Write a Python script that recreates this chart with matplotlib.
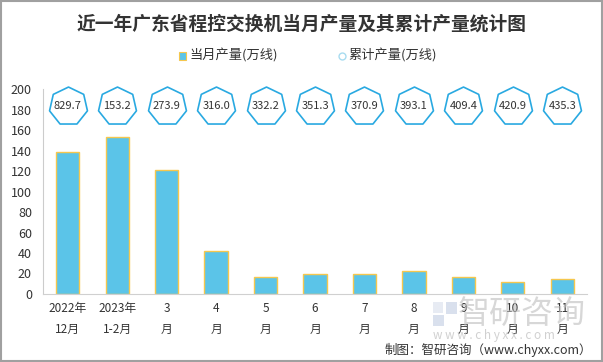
import matplotlib.pyplot as plt
from matplotlib.patches import Rectangle

plt.rcParams['font.family'] = ['Noto Sans CJK SC', 'DejaVu Sans']

categories = ['2022年\n12月', '2023年\n1-2月', '3\n月', '4\n月', '5\n月', '6\n月',
              '7\n月', '8\n月', '9\n月', '10\n月', '11\n月']
monthly = [138.5, 153.2, 120.7, 42.1, 16.2, 19.1, 19.6, 22.2, 16.3, 11.5, 14.4]
cumulative = [829.7, 153.2, 273.9, 316.0, 332.2, 351.3, 370.9, 393.1, 409.4, 420.9, 435.3]

bar_color = '#5bc4e8'
edge_color = '#f5c74e'
hept_color = '#29a9e1'

fig = plt.figure(figsize=(6.03, 3.62), dpi=100)
ax = fig.add_axes([43 / 603, 1 - 294 / 362, 544 / 603, 205 / 362])

x = range(len(categories))
ax.bar(x, monthly, width=0.47, color=bar_color, edgecolor=edge_color, linewidth=1)

# 累计产量：七边形标记
hy = [183] * len(categories)
ax.scatter(x, hy, marker=(7, 0, 0), s=28 ** 2, facecolors='white',
           edgecolors=hept_color, linewidths=1.2, zorder=3, clip_on=False)
for i, v in enumerate(cumulative):
    ax.text(i, hy[i], f'{v:.1f}', ha='center', va='center', fontsize=8,
            color='#333333', zorder=4)

ax.set_xlim(-0.5, len(categories) - 0.5)
ax.set_ylim(0, 200)
ax.set_yticks(range(0, 201, 20))
ax.set_xticks(list(x))
ax.set_xticklabels(categories, fontsize=8.5, color='#333333', linespacing=1.75)
ax.tick_params(axis='y', labelsize=9, colors='#333333', length=0, pad=8)
ax.tick_params(axis='x', length=0, pad=6)
for s in ['top', 'right']:
    ax.spines[s].set_visible(False)
ax.spines['left'].set_color('#cccccc')
ax.spines['bottom'].set_color('#d0d0d0')

fig.text(302 / 603, 1 - 24 / 362, '近一年广东省程控交换机当月产量及其累计产量统计图',
         ha='center', va='center', fontsize=13.5, fontweight='bold', color='#333333')

# 图例
fig.patches.append(Rectangle((179 / 603, 1 - 60 / 362), 7 / 603, 8 / 362,
                             transform=fig.transFigure, facecolor=bar_color,
                             edgecolor=edge_color, linewidth=0.8))
fig.text(189 / 603, 1 - 56 / 362, '当月产量(万线)', ha='left', va='center',
         fontsize=9.5, color='#333333')
fig.lines.append(plt.Line2D([342 / 603], [1 - 56 / 362], transform=fig.transFigure,
                            marker='o', markersize=5, markerfacecolor='white',
                            markeredgecolor='#a8dcf0', linestyle='none'))
fig.text(348 / 603, 1 - 56 / 362, '累计产量(万线)', ha='left', va='center',
         fontsize=9.5, color='#333333')

# 水印
wm = '#bdbdbd'
fig.patches.append(Rectangle((433 / 603, 1 - 326 / 362), 11 / 603, 11 / 362,
                             transform=fig.transFigure, facecolor='#c9d3e6',
                             edgecolor='none', alpha=0.7))
fig.patches.append(Rectangle((446 / 603, 1 - 314 / 362), 11 / 603, 12 / 362,
                             transform=fig.transFigure, facecolor='#c9d3e6',
                             edgecolor='none', alpha=0.7))
fig.patches.append(Rectangle((433 / 603, 1 - 313 / 362), 10 / 603, 11 / 362,
                             transform=fig.transFigure, facecolor='#dde3ee',
                             edgecolor='none', alpha=0.7))
fig.text(458 / 603, 1 - 314 / 362, '智研咨询', ha='left', va='center', fontsize=23,
         color=wm, alpha=0.6)
fig.text(433 / 603, 1 - 336 / 362, 'w w w . c h y x x . c o m', ha='left', va='center',
         fontsize=8.5, color=wm, alpha=0.7)

fig.text(592 / 603, 1 - 350 / 362, '制图：智研咨询（www.chyxx.com）', ha='right',
         va='center', fontsize=9, color='#333333')

fig.patches.append(Rectangle((0.001, 0.002), 0.997, 0.995, transform=fig.transFigure,
                             fill=False, edgecolor='#a0a0a0', linewidth=1.5))

fig.savefig('out.png', dpi=100)
